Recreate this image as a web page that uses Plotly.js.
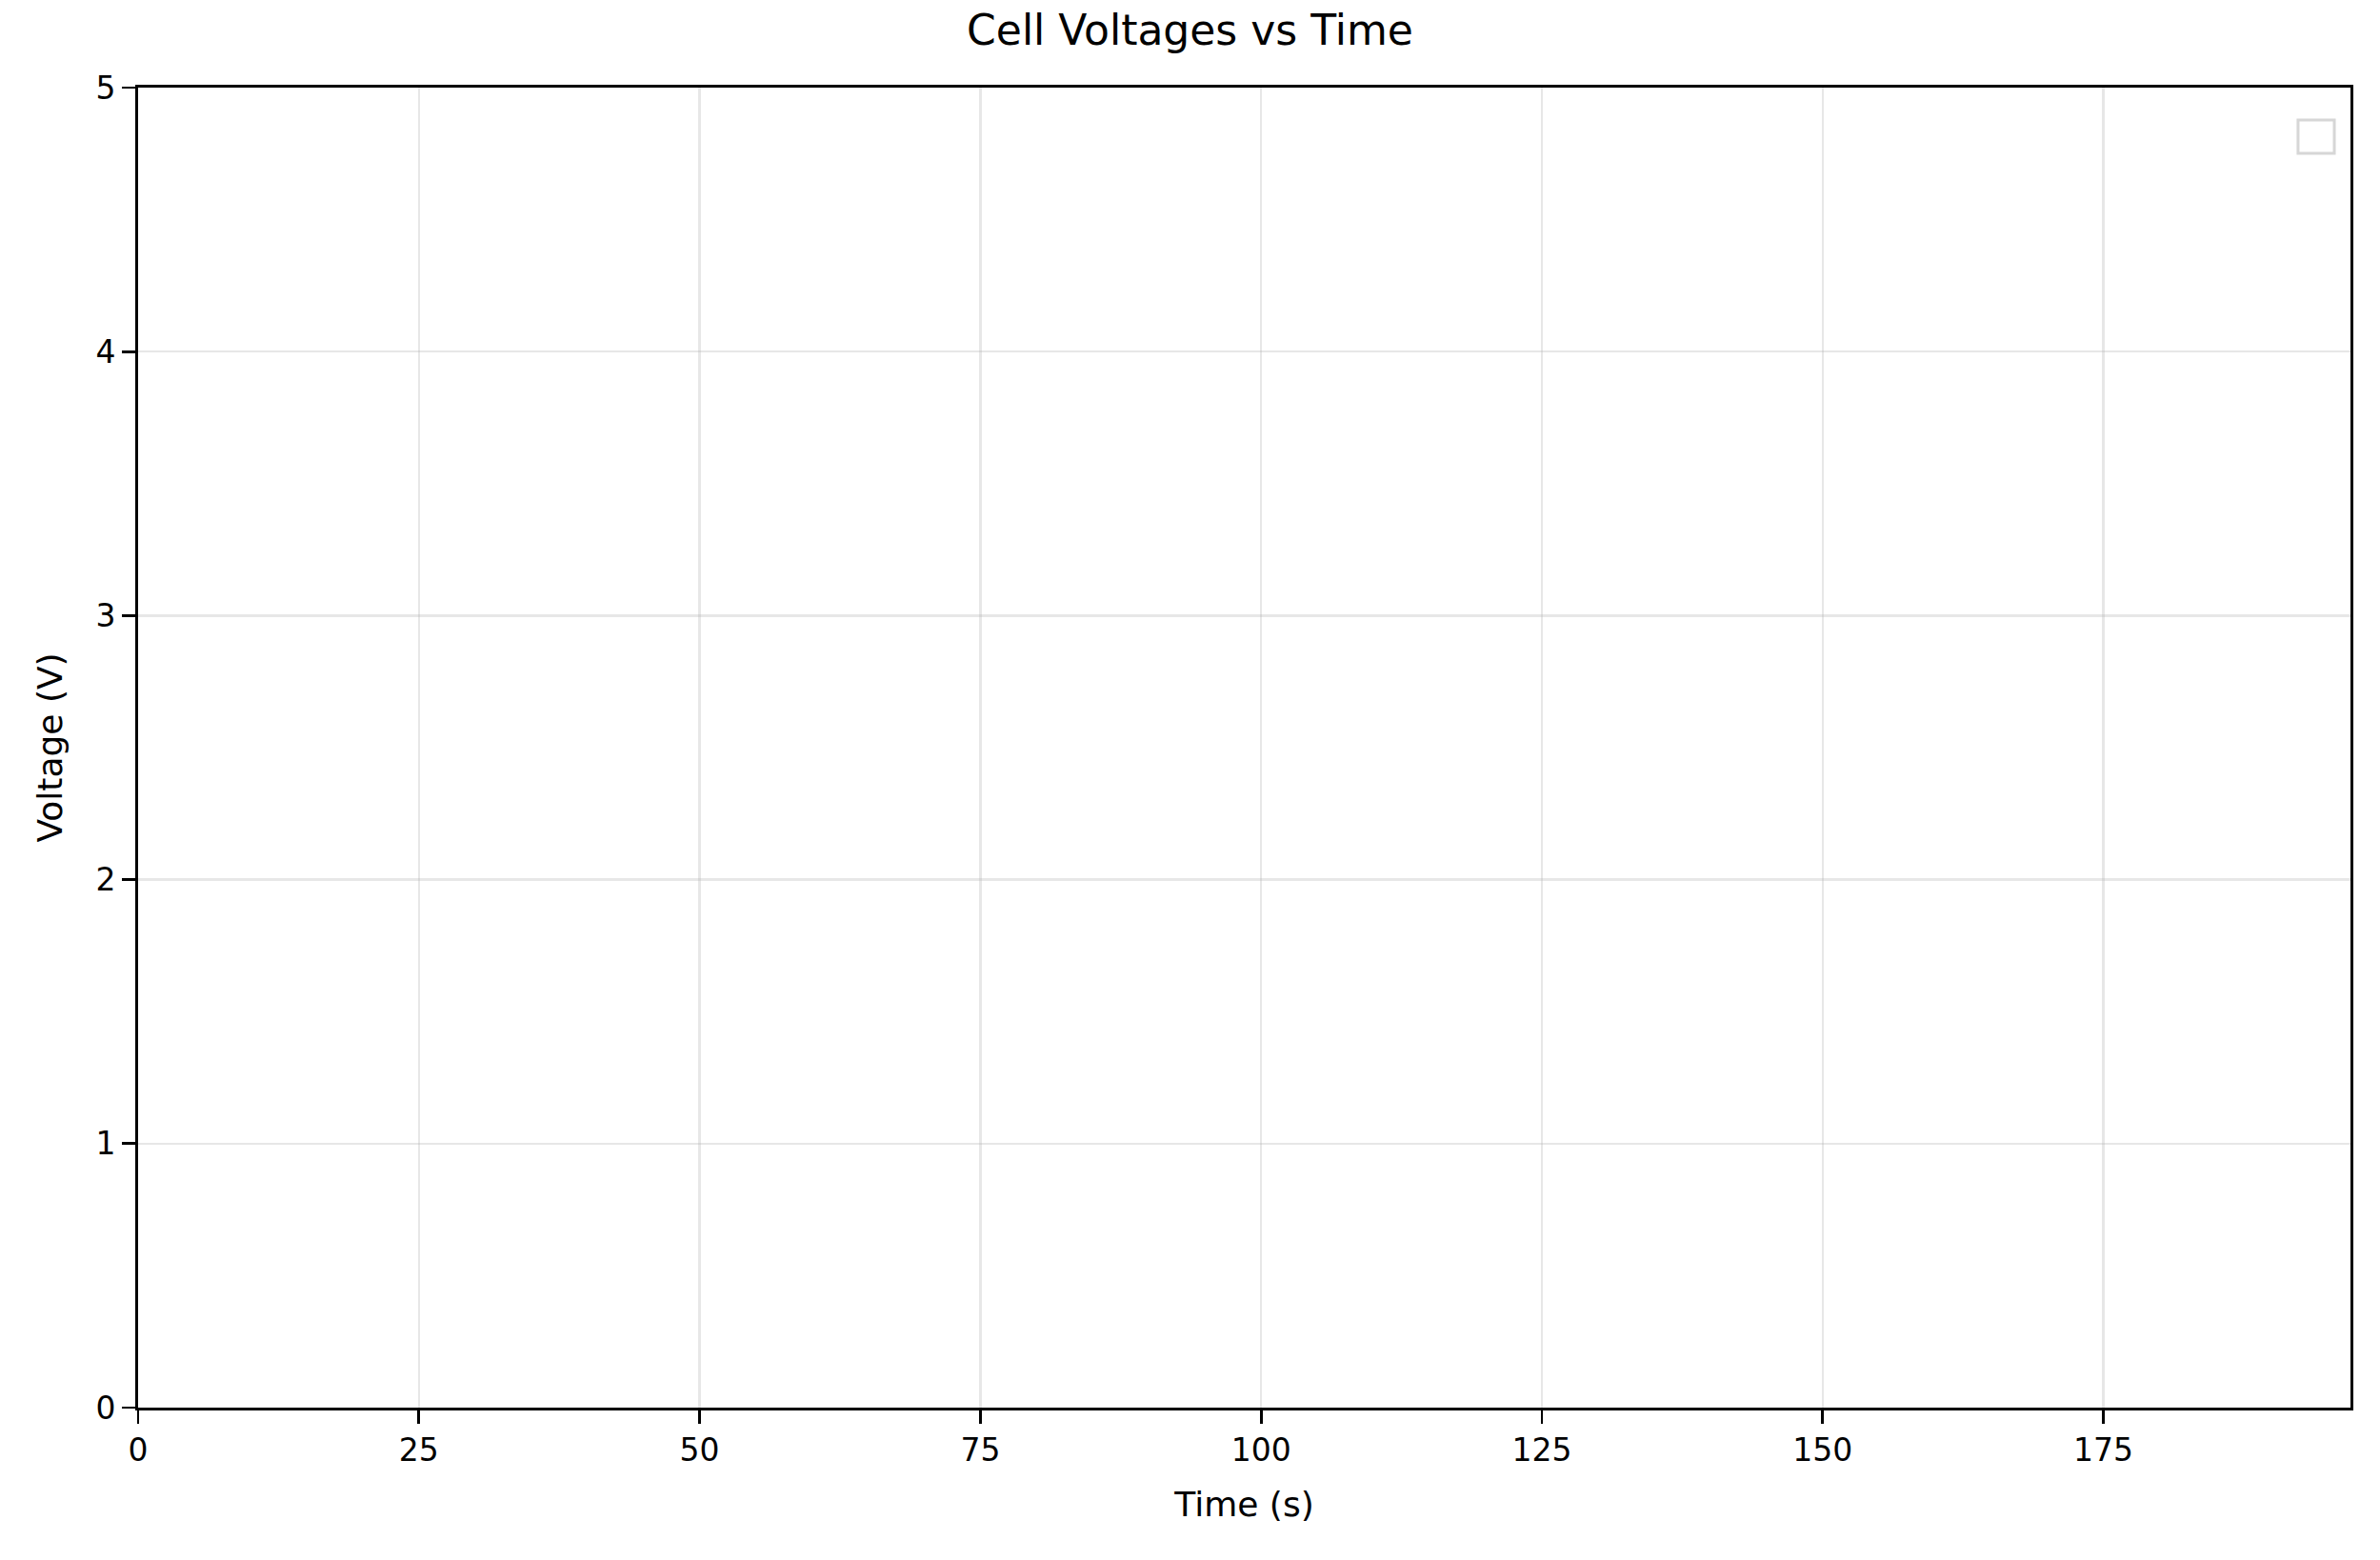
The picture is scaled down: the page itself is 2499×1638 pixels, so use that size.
<!DOCTYPE html>
<html>
<head>
<meta charset="utf-8">
<script src="https://cdn.plot.ly/plotly-3.0.1.min.js"></script>
<style>html,body{margin:0;padding:0;background:#fff;} #data{width:2499px;height:1638px;}</style>
</head>
<body>
<div id="data"></div>
<script>
// no samples were logged: the chart is empty
var timeValues = [];
var cellVoltages = [];
var xTicks = [0, 25, 50, 75, 100, 125, 150, 175];
var yTicks = [0, 1, 2, 3, 4, 5];

var font = 'DejaVu Sans, sans-serif';

var traces = [{
  x: timeValues,
  y: cellVoltages,
  type: 'scatter',
  mode: 'lines',
  showlegend: false
}];

var axisCommon = {
  showline: true,
  linecolor: '#000',
  linewidth: 2.8,
  mirror: true,
  ticks: 'outside',
  ticklen: 14,
  tickwidth: 2.8,
  tickcolor: '#000',
  showgrid: true,
  gridcolor: 'rgba(176,176,176,0.3)',
  gridwidth: 2.5,
  zeroline: false,
  tickfont: { family: font, size: 33, color: '#000' }
};

var layout = {
  width: 2499,
  height: 1638,
  margin: { l: 145, r: 31, t: 92, b: 160, pad: 0 },
  paper_bgcolor: '#fff',
  plot_bgcolor: '#fff',
  font: { family: font, color: '#000' },
  title: {
    text: 'Cell Voltages vs Time',
    font: { family: font, size: 44, color: '#000' },
    x: 0.5, xanchor: 'center', y: 0.99, yanchor: 'top'
  },
  xaxis: Object.assign({}, axisCommon, {
    range: [0, 197],
    tickvals: xTicks,
    title: { text: 'Time (s)', font: { family: font, size: 36 }, standoff: 26 }
  }),
  yaxis: Object.assign({}, axisCommon, {
    range: [0, 5],
    tickvals: yTicks,
    title: { text: 'Voltage (V)', font: { family: font, size: 36 }, standoff: 24 }
  }),
  shapes: [{
    // empty legend frame
    type: 'rect', xref: 'paper', yref: 'paper',
    x0: 0.9763, x1: 0.9927, y0: 0.9755, y1: 0.9502,
    line: { color: '#d6d6d6', width: 3 },
    fillcolor: 'rgba(255,255,255,0.8)'
  }]
};

Plotly.newPlot('data', traces, layout, { displayModeBar: false, staticPlot: true });
</script>
</body>
</html>
